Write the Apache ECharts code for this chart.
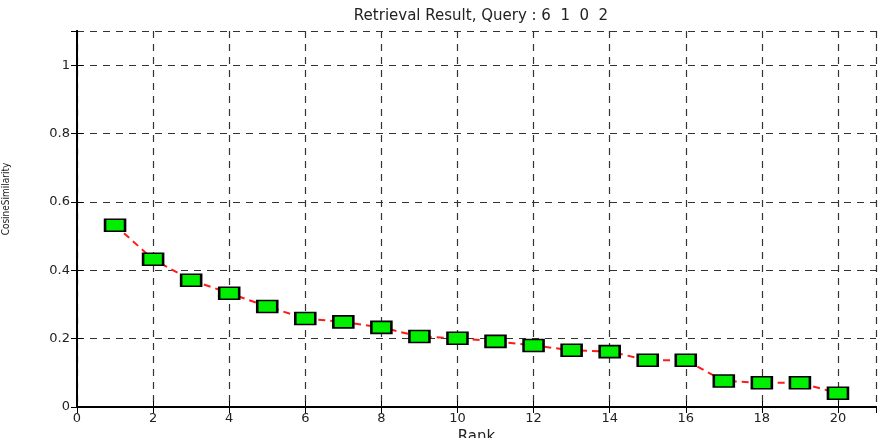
<!DOCTYPE html>
<html>
<head>
<meta charset="utf-8">
<script src="https://cdn.jsdelivr.net/npm/echarts@6/dist/echarts.min.js"></script>
<style>
  html, body { margin: 0; padding: 0; background: #fff; }
  #chart { width: 886px; height: 438px; }
</style>
</head>
<body>
<div id="chart"></div>
<script>
var ranks = [1, 2, 3, 4, 5, 6, 7, 8, 9, 10, 11, 12, 13, 14, 15, 16, 17, 18, 19, 20];
var similarity = [0.532, 0.432, 0.371, 0.333, 0.294, 0.259, 0.249, 0.233, 0.206, 0.201,
                  0.192, 0.180, 0.166, 0.162, 0.137, 0.137, 0.076, 0.071, 0.071, 0.040];
var chartTitle = 'Retrieval Result, Query : 6  1  0  2';

var resultChart = echarts.init(document.getElementById('chart'));

var font = 'DejaVu Sans, Liberation Sans, sans-serif';
var gridLine = { show: true, lineStyle: { color: '#333', type: [7, 6], width: 1.2 } };

var option = {
  animation: false,
  title: {
    text: chartTitle,
    left: 476,
    textAlign: 'center',
    top: 4,
    textStyle: { fontFamily: font, fontSize: 15, fontWeight: 'normal', color: '#222' }
  },
  grid: { left: 77, right: 10, top: 31, bottom: 31, containLabel: false, outerBoundsMode: 'none' },
  graphic: [{
    type: 'text',
    x: 6,
    y: 199,
    rotation: Math.PI / 2,
    style: {
      text: 'CosineSimilarity',
      font: '10px "Liberation Sans Narrow", "DejaVu Sans Condensed", sans-serif',
      fill: '#222',
      textAlign: 'center',
      textVerticalAlign: 'middle'
    }
  }],
  xAxis: [{
    type: 'value',
    min: 0,
    max: 21,
    interval: 2,
    name: 'Rank',
    nameLocation: 'middle',
    nameGap: 23,
    nameTextStyle: { fontFamily: font, fontSize: 15, color: '#222' },
    axisLine: { show: true, lineStyle: { color: '#000', width: 2 } },
    axisTick: { show: true, inside: true, length: 6, lineStyle: { color: '#000' } },
    axisLabel: { showMaxLabel: false, fontFamily: font, fontSize: 13, color: '#222', margin: 5 },
    splitLine: gridLine
  }, {
    type: 'value',
    position: 'top',
    min: 0,
    max: 21,
    interval: 2,
    axisLine: { show: true, lineStyle: { color: '#000', width: 2 } },
    axisTick: { show: true, inside: true, length: 6, lineStyle: { color: '#000' } },
    axisLabel: { show: false },
    splitLine: { show: false }
  }],
  yAxis: [{
    type: 'value',
    min: 0,
    max: 1.1,
    interval: 0.2,
    axisLine: { show: true, lineStyle: { color: '#000', width: 2 } },
    axisTick: { show: true, inside: true, length: 6, lineStyle: { color: '#000' } },
    axisLabel: { showMaxLabel: false, fontFamily: font, fontSize: 13, color: '#222', margin: 7 },
    splitLine: gridLine
  }, {
    type: 'value',
    position: 'right',
    min: 0,
    max: 1.1,
    interval: 0.2,
    axisLine: { show: true, lineStyle: { color: '#000', width: 2 } },
    axisTick: { show: true, inside: true, length: 6, lineStyle: { color: '#000' } },
    axisLabel: { show: false },
    splitLine: { show: false }
  }],
  series: [{
    name: 'Similarity',
    type: 'line',
    xAxisIndex: 0,
    yAxisIndex: 0,
    data: ranks.map(function (r, i) { return [r, similarity[i]]; }),
    symbol: 'rect',
    symbolSize: [20, 12],
    lineStyle: { color: '#ff1a1a', width: 2, type: [7, 5] },
    itemStyle: { color: '#00ee00', borderColor: '#000', borderWidth: 2 },
    z: 5
  }]
};

resultChart.setOption(option);
</script>
</body>
</html>
